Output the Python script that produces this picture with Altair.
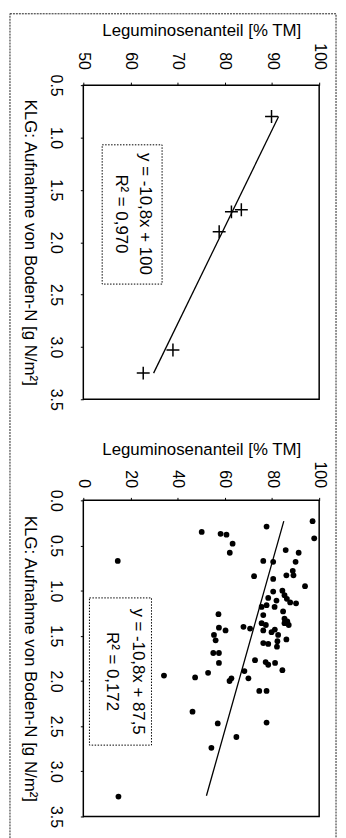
import altair as alt
import pandas as pd

FONT = "Liberation Sans"

# ---------- Panel 1 (top) ----------
klg1 = [0.80, 1.69, 1.71, 1.90, 3.03, 3.25]
leg1 = [89.9, 83.5, 81.4, 78.8, 69.0, 62.7]
fit1_klg = [0.80, 3.25]
fit1_leg = [91.4, 64.9]
eq1_text = ["y = -10,8x + 100", "R\u00b2 = 0,970"]
eq1_leg = [63.0, 58.0]
eq1_klg = [1.73, 1.73]
box1 = {"l1": [54.0], "l2": [66.7], "k1": [1.07], "k2": [2.40]}
xticks1 = [50, 60, 70, 80, 90, 100]
yticks1 = [0.5, 1.0, 1.5, 2.0, 2.5, 3.0, 3.5]

# ---------- Panel 2 (bottom) ----------
klg2 = [0.23, 0.42, 0.29, 0.35, 0.37, 0.38, 0.48, 0.58, 0.55, 0.58,
        0.67, 0.67, 0.68, 0.68, 0.78, 0.83, 0.83, 0.84, 0.87, 0.95,
        1.01, 1.00, 1.05, 1.09, 1.08, 1.11, 1.13, 1.14, 1.16, 1.18,
        1.18, 1.23, 1.27, 1.31, 1.26, 1.34, 1.40, 1.42, 1.41, 1.44,
        1.49, 1.36, 1.38, 1.44, 1.46, 1.43, 1.49, 1.36, 1.38, 1.55,
        1.58, 1.59, 1.56, 1.62, 1.54, 1.69, 1.69, 1.80, 1.77, 1.79,
        1.82, 1.80, 1.88, 1.91, 1.96, 1.94, 1.97, 2.00, 1.89, 1.97,
        2.11, 2.11, 2.34, 2.47, 2.46, 2.62, 2.74, 3.28]
leg2 = [97.2, 97.9, 77.7, 50.2, 58.2, 60.7, 63.3, 62.1, 85.8, 91.3,
        14.6, 76.3, 80.5, 90.0, 88.8, 89.1, 86.1, 72.4, 80.5, 94.0,
        80.5, 84.4, 85.3, 86.3, 78.4, 81.9, 87.7, 90.2, 77.7, 75.6,
        81.1, 84.7, 76.3, 85.3, 57.3, 86.5, 67.9, 70.7, 57.5, 60.3,
        55.4, 75.6, 77.4, 76.3, 79.8, 81.2, 82.6, 85.3, 87.1, 56.1,
        76.3, 78.4, 82.3, 82.1, 86.1, 55.1, 57.5, 57.5, 72.8, 77.3,
        78.4, 81.3, 84.4, 52.9, 47.4, 34.2, 62.8, 62.0, 68.3, 70.0,
        74.6, 77.7, 46.3, 57.0, 77.7, 64.9, 54.3, 14.9]
fit2_klg = [0.23, 3.27]
fit2_leg = [85.0, 52.2]
eq2_text = ["y = -10,8x + 87,5", "R\u00b2 = 0,172"]
eq2_leg = [23.3, 12.1]
eq2_klg = [1.895, 1.895]
box2 = {"l1": [2.6], "l2": [28.9], "k1": [1.08], "k2": [2.71]}
xticks2 = [0, 20, 40, 60, 80, 100]
yticks2 = [0.0, 0.5, 1.0, 1.5, 2.0, 2.5, 3.0, 3.5]

XTITLE = "Leguminosenanteil [% TM]"
YTITLE = "KLG: Aufnahme von Boden-N [g N/m\u00b2]"


def panel(klg, leg, fit_klg, fit_leg, eq_text, eq_leg, eq_klg, box,
          xdom, xticks, ydom, yticks, height, crosses, xlabpad, frame=False):
    xs = alt.Scale(domain=xdom, nice=False, zero=False)
    ys = alt.Scale(domain=ydom, nice=False, zero=False, reverse=True)
    xaxis = alt.Axis(orient="top", values=xticks, title=XTITLE,
                     labelAngle=90, labelAlign="right", labelBaseline="middle",
                     labelPadding=xlabpad, titleAngle=0, titlePadding=3)
    yaxis = alt.Axis(orient="left", values=yticks, format=".1f", title=YTITLE,
                     labelAngle=90, labelAlign="center", labelBaseline="top",
                     labelPadding=17, titleAngle=90, titleBaseline="top",
                     titlePadding=10)

    def X(f="leg"):
        return alt.X(f + ":Q", scale=xs, axis=xaxis)

    def Y(f="klg"):
        return alt.Y(f + ":Q", scale=ys, axis=yaxis)

    pts = pd.DataFrame({"klg": klg, "leg": leg})
    if crosses:
        pmark = alt.Chart(pts).mark_point(
            shape="M-1,0L1,0M0,-1L0,1", size=170, filled=False,
            stroke="black", strokeWidth=1.5, opacity=1)
    else:
        pmark = alt.Chart(pts).mark_circle(size=34, color="black", opacity=1)
    pmark = pmark.encode(x=X(), y=Y())

    fit = alt.Chart(pd.DataFrame({"klg": fit_klg, "leg": fit_leg})).mark_line(
        color="black", strokeWidth=1.3).encode(x=X(), y=Y())

    boxl = alt.Chart(pd.DataFrame(box)).mark_rect(
        filled=False, stroke="black", strokeWidth=1, strokeDash=[1.5, 1.5]
    ).encode(x=X("l1"), x2="l2:Q", y=Y("k1"), y2="k2:Q")

    txt = alt.Chart(pd.DataFrame({"klg": eq_klg, "leg": eq_leg, "t": eq_text})).mark_text(
        angle=90, align="center", baseline="middle", fontSize=17, font=FONT,
        color="black").encode(x=X(), y=Y(), text="t:N")

    layers = [boxl, fit, pmark, txt]
    if frame:
        fr = alt.Chart(pd.DataFrame({"a": [0]})).mark_rect(
            filled=False, stroke="#222", strokeWidth=1, strokeDash=[2, 1]
        ).encode(x=alt.value(-74), x2=alt.value(255),
                 y=alt.value(-72), y2=alt.value(768))
        layers = [fr] + layers
    return alt.layer(*layers).properties(width=238, height=height)


p1 = panel(klg1, leg1, fit1_klg, fit1_leg, eq1_text, eq1_leg, eq1_klg, box1,
           [50, 100], xticks1, [0.5, 3.5], yticks1, 317, True, 13, frame=True)
p2 = panel(klg2, leg2, fit2_klg, fit2_leg, eq2_text, eq2_leg, eq2_klg, box2,
           [0, 100], xticks2, [0.0, 3.5], yticks2, 319, False, 10)

chart = alt.vconcat(p1, p2, spacing=102, bounds="flush").properties(
    padding=0,
    background="white",
).configure_view(
    stroke="black", strokeWidth=1.5
).configure_axis(
    grid=False, domain=False, tickColor="black", tickSize=3,
    labelColor="black", titleColor="black", labelFont=FONT, titleFont=FONT,
    labelFontSize=16, titleFontSize=17, titleFontWeight="normal",
    labelFlush=False, labelOverlap=False
)

chart.save("out.html", embed_options={"renderer": "svg", "actions": False})
